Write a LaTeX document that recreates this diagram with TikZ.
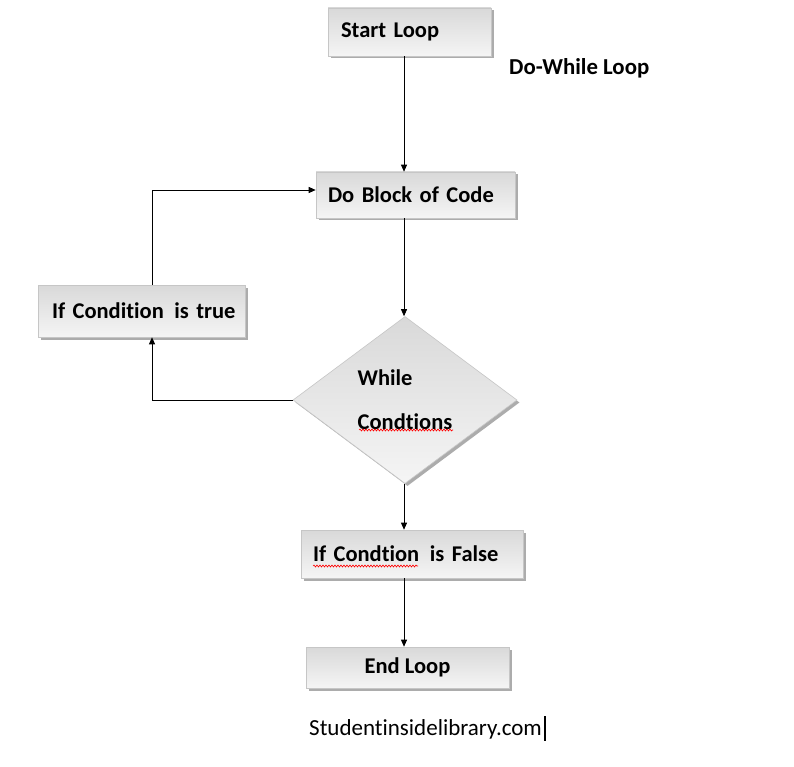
\documentclass[tikz,border=0pt]{standalone}
\usepackage{fontspec}
\setmainfont[Ligatures=NoCommon]{Carlito}
\usetikzlibrary{shapes.geometric,shadows,arrows.meta,decorations.pathmorphing}
\tikzset{
  boxshade/.style={draw=gray!45, line width=0.6pt, top color=gray!30, bottom color=gray!8,
    drop shadow={shadow xshift=2.5pt, shadow yshift=-2.5pt, fill=gray!65, opacity=1}},
  flowbox/.style={boxshade, rectangle, inner ysep=0pt, align=left,
    font=\fontsize{22.5}{27}\selectfont\bfseries},
  decision/.style={boxshade, diamond, minimum width=224pt, minimum height=167pt, inner sep=0pt,
    align=left, font=\fontsize{22.5}{44}\selectfont\bfseries},
  conn/.style={line width=0.8pt, -{Triangle[length=7pt,width=6pt]}},
  spell/.style={red, line width=0.6pt, decorate, decoration={snake, amplitude=1pt, segment length=3pt}},
  label/.style={font=\fontsize{23}{27}\selectfont, inner sep=0pt, anchor=west}
}
\begin{document}
\begin{tikzpicture}[x=1pt,y=-1pt]
\useasboundingbox (0,0) rectangle (794,767);
\fill[white] (0,0) rectangle (794,767);

\node[flowbox, minimum height=48pt, text width=137pt, inner xsep=13pt] (start) at (409.5,32) {\mbox{Start Loop}};
\node[label, font=\fontsize{22.8}{27}\selectfont\bfseries] (title) at (509,68) {Do-While Loop};
\node[flowbox, minimum height=46pt, text width=175pt, inner xsep=12pt] (doblock) at (415.5,195) {\mbox{Do Block of Code}};
\node[flowbox, minimum height=52pt, text width=179pt, inner xsep=14pt] (iftrue) at (141.5,311) {\mbox{If Condition\hspace{3pt} is true}};
\node[decision] (dia) at (405,400) {While\\Condtions};
\node[flowbox, minimum height=48pt, text width=198pt, inner xsep=12pt] (iffalse) at (412,554) {\mbox{If Condtion\hspace{3pt} is False}};
\node[flowbox, minimum height=41pt, minimum width=203pt, align=center, inner xsep=0pt] (endloop) at (407.5,667.5) {End Loop};
\node[label] (site) at (309,729) {Studentinsidelibrary.com};

\coordinate (loopx) at (152,0);
\coordinate (mainx) at (404,0);

\draw[conn] (start.south -| mainx) -- (doblock.north -| mainx);
\draw[conn] (doblock.south -| mainx) -- (dia.north -| mainx);
\draw[conn] (dia.west) -| (iftrue.south -| loopx);
\draw[conn] (iftrue.north -| loopx) |- ([yshift=5pt]doblock.west);
\draw[conn] (dia.south -| mainx) -- (iffalse.north -| mainx);
\draw[conn] (iffalse.south -| mainx) -- (endloop.north -| mainx);

\draw[spell] (359,430) -- (453,430);
\draw[spell] (313,566) -- (418,566);
\draw[line width=1.6pt] ([xshift=3pt,yshift=13pt]site.east) -- ([xshift=3pt,yshift=-12pt]site.east);
\end{tikzpicture}
\end{document}
